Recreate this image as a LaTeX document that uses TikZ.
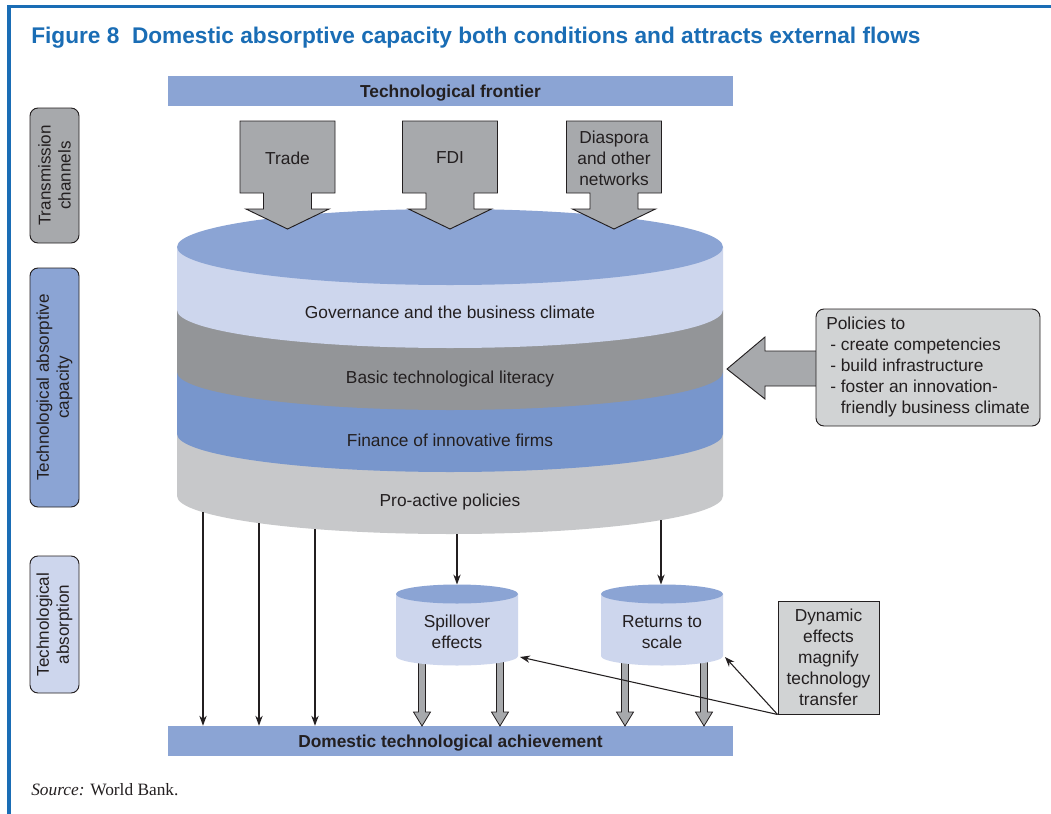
\documentclass[tikz,border=0pt]{standalone}
\usepackage{fontspec}
\setmainfont{Liberation Sans}
\newfontfamily\srcfont{Liberation Serif}
\usetikzlibrary{arrows.meta}
\definecolor{frameblue}{HTML}{1A6DB5}
\definecolor{barblue}{HTML}{8BA4D4}
\definecolor{paleblue}{HTML}{CDD6ED}
\definecolor{midblue}{HTML}{7896CC}
\definecolor{darkgray}{HTML}{939598}
\definecolor{lightgray}{HTML}{C7C8CA}
\definecolor{arrowgray}{HTML}{A7A9AC}
\definecolor{boxgray}{HTML}{D1D3D4}
\definecolor{ink}{HTML}{231F20}
\tikzset{
  txt/.style={text=ink, inner sep=0pt, font=\fontsize{13}{15.75}\selectfont, align=center},
  barnode/.style={fill=barblue, minimum width=423.75pt, minimum height=22.5pt, inner sep=0pt, text depth=0pt, text=ink, font=\bfseries\fontsize{13}{15}\selectfont},
  sidelabel/.style={draw=ink, line width=0.7pt, rounded corners=6pt, rotate=90, minimum height=36.75pt, inner sep=0pt, text=ink, align=center, font=\fontsize{12.8}{15}\selectfont},
  blockarrow/.style={fill=arrowgray, draw=ink, line width=0.7pt, line join=miter},
  thin/.style={draw=ink, line width=0.8pt, -{Stealth[length=7.5pt,width=5.5pt]}},
  graybox/.style={fill=boxgray, draw=ink, line width=0.7pt, inner sep=0pt, text=ink, font=\fontsize{13}{15.75}\selectfont},
}
\begin{document}
\begin{tikzpicture}[x=0.75pt,y=-0.75pt]
\useasboundingbox (0,0) rectangle (1051,814);
\fill[white] (0,0) rectangle (1051,814);
% frame
\draw[frameblue, line width=2.4pt] (9,814) -- (9,6.5) -- (1051,6.5);
\node[anchor=base west, inner sep=0pt, text=frameblue, font=\bfseries\fontsize{17}{20}\selectfont] (title) at (31,43.5) {Figure 8\ \ Domestic absorptive capacity both conditions and attracts external flows};
% top bar
\node[barnode] (frontier) at (450.5,91) {Technological frontier};
% big cylinder
\def\cyl#1#2#3{\fill[#1] (177,#2) -- (177,#3) arc[start angle=180,end angle=0,x radius=273,y radius=38] -- (723,#2) -- cycle;}
\cyl{lightgray}{434}{496}
\cyl{midblue}{372}{434}
\cyl{darkgray}{310}{372}
\cyl{paleblue}{247}{310}
\fill[barblue] (450,247) ellipse[x radius=273, y radius=38];
\node[txt] (gov) at (450,312) {Governance and the business climate};
\node[txt] (lit) at (450,379) {Basic technological literacy};
\node[txt] (fin) at (450,440) {Finance of innovative firms};
\node[txt] (pro) at (450,502) {Pro-active policies};
% block arrows
\foreach \cx in {287.5,450,614}{
  \draw[blockarrow] (\cx-47.5,121) -- (\cx+47.5,121) -- (\cx+47.5,193) -- (\cx+24,193) -- (\cx+24,209) -- (\cx+41.5,209) -- (\cx,229) -- (\cx-41.5,209) -- (\cx-24,209) -- (\cx-24,193) -- (\cx-47.5,193) -- cycle;
}
\node[txt] (trade) at (287.5,158) {Trade};
\node[txt] (fdi) at (450,158) {FDI};
\node[txt] (diaspora) at (614,158) {Diaspora\\and other\\networks};
% policies
\draw[blockarrow] (727,369) -- (765,337) -- (765,351) -- (820,351) -- (820,386) -- (765,386) -- (765,399) -- cycle;
\node[graybox, rounded corners=6pt, minimum width=168pt, minimum height=87.75pt, align=left] (policies) at (928,367.5) {Policies to\\\hspace*{3pt}- create competencies\\\hspace*{3pt}- build infrastructure\\\hspace*{3pt}- foster an innovation-\\\hspace*{11pt}friendly business climate};
% bottom bar
\node[barnode] (achv) at (450.5,741) {Domestic technological achievement};
% thick arrows
\foreach \x in {422,500,625,704}{
  \draw[blockarrow, line width=0.6pt] (\x-3.5,650) -- (\x-3.5,712) -- (\x-8.5,712) -- (\x,726) -- (\x+8.5,712) -- (\x+3.5,712) -- (\x+3.5,650) -- cycle;
}
% small cylinders
\foreach \cx in {457,662}{
  \fill[paleblue] (\cx-61,594) -- (\cx-61,656) arc[start angle=180,end angle=0,x radius=61,y radius=9.5] -- (\cx+61,594) -- cycle;
  \fill[barblue] (\cx,594) ellipse[x radius=61, y radius=9.5];
}
\node[txt] (spill) at (457,632) {Spillover\\effects};
\node[txt] (returns) at (662,632) {Returns to\\scale};
% connectors from big cylinder
\coordinate (p1) at (203,512);
\coordinate (p2) at (259,523);
\coordinate (p3) at (315,529);
\coordinate (p4) at (457,534);
\coordinate (p5) at (661,520);
\coordinate (spilltop) at (457,584.5);
\coordinate (rettop) at (661,584.5);
\draw[thin] (p1) -- (achv.north -| p1);
\draw[thin] (p2) -- (achv.north -| p2);
\draw[thin] (p3) -- (achv.north -| p3);
\draw[thin] (p4) -- (spilltop);
\draw[thin] (p5) -- (rettop);
% dynamic effects
\node[graybox, minimum width=75.75pt, minimum height=84.75pt, align=center] (dyn) at (828.5,657.5) {Dynamic\\effects\\magnify\\technology\\transfer};
\coordinate (spillR) at (520,657);
\coordinate (retR) at (725,657);
\draw[thin] (dyn.south west) -- (spillR);
\draw[thin] (dyn.south west) -- (retR);
% left labels
\node[sidelabel, fill=arrowgray, minimum width=101.25pt] (trans) at (54.5,175.5) {Transmission\\channels};
\node[sidelabel, fill=barblue, minimum width=179.25pt] (tac) at (54.5,387.5) {Technological absorptive\\capacity};
\node[sidelabel, fill=paleblue, minimum width=102.75pt] (tab) at (54.5,624.5) {Technological\\absorption};
% source
\node[anchor=base west, inner sep=0pt, text=ink, font=\srcfont\fontsize{13}{15}\selectfont] (source) at (31,795) {\textit{Source:} World Bank.};
\end{tikzpicture}
\end{document}
